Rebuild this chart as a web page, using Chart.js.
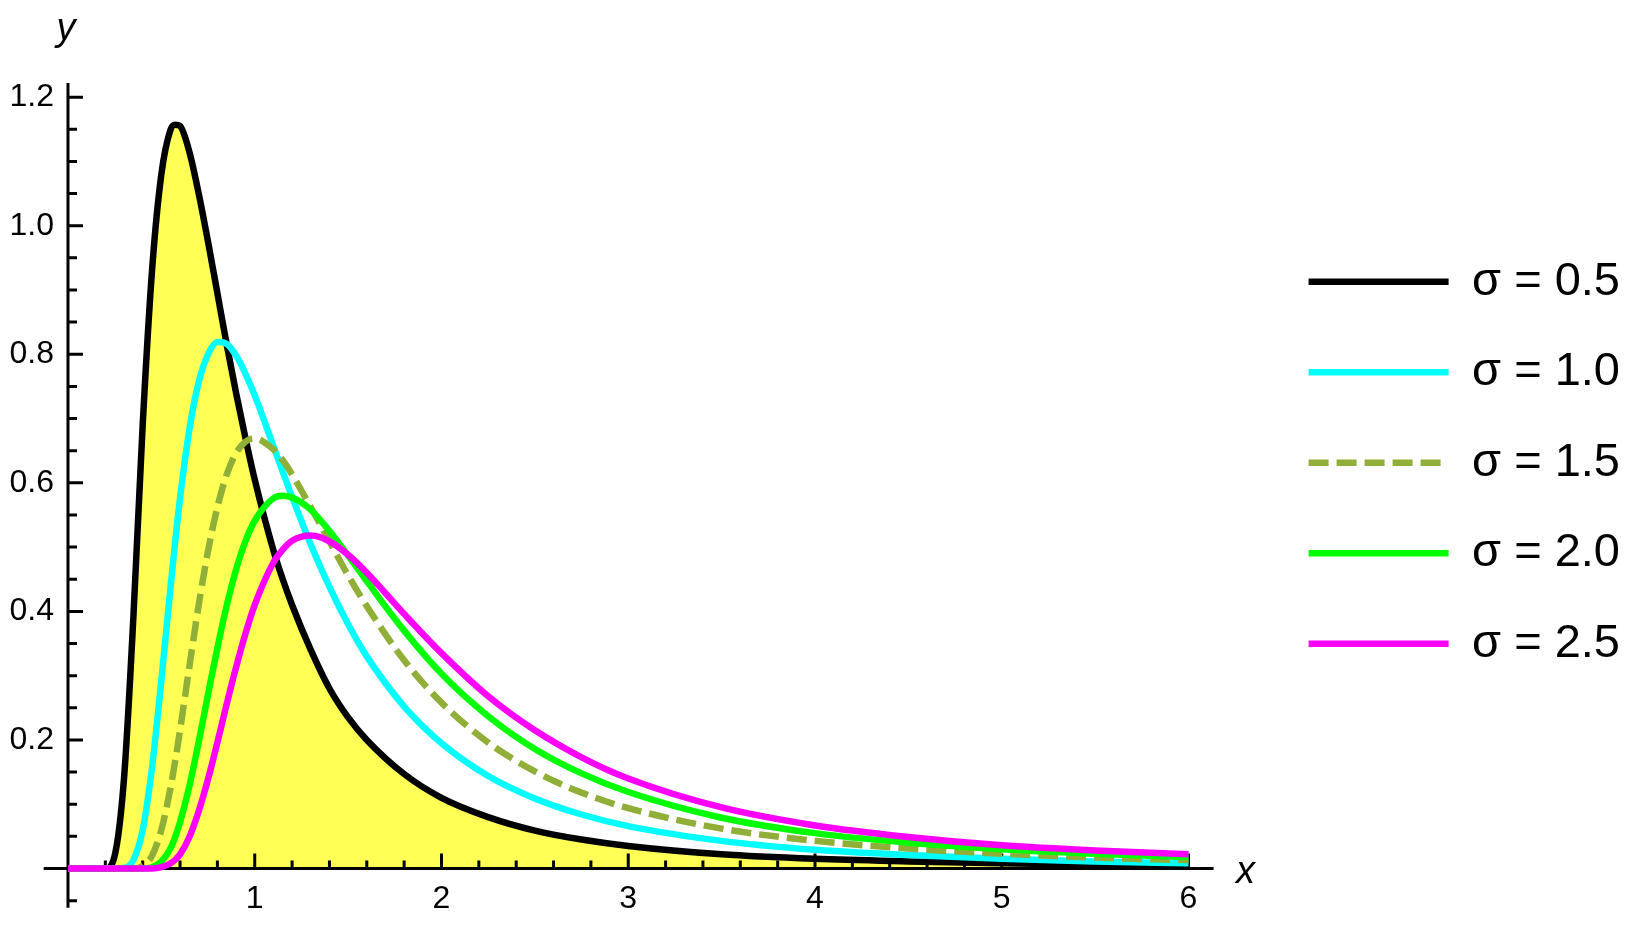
<!DOCTYPE html>
<html>
<head>
<meta charset="utf-8">
<title>Densities for several sigma</title>
<script src="https://cdn.jsdelivr.net/npm/chart.js@4.4.1/dist/chart.umd.min.js"></script>
<style>
    html, body { margin: 0; padding: 0; background: #fff; }
    #chart { display: block; }
</style>
</head>
<body>
<canvas id="chart" width="1630" height="931"></canvas>
<script>

// values
var xs = [0, 0.1, 0.2, 0.25, 0.3, 0.35, 0.4, 0.45, 0.5, 0.55, 0.575, 0.6, 0.65, 0.7, 0.75, 0.8, 0.85, 0.9, 0.95, 1.0,
    1.1, 1.15, 1.2, 1.3, 1.4, 1.5, 1.6, 1.8, 2.0, 2.25, 2.5, 2.75, 3.0, 3.5, 4.0, 4.5, 5.0, 5.5, 6.0];

var sigma05 = [0, 0, 0, 0.02, 0.14, 0.39, 0.69, 0.93, 1.08, 1.15, 1.157, 1.155, 1.115, 1.05, 0.975, 0.895, 0.815, 0.74, 0.67, 0.605,
    0.495, 0.45, 0.41, 0.34, 0.28, 0.235, 0.20, 0.147, 0.11, 0.08, 0.059, 0.045, 0.035, 0.022, 0.015, 0.011, 0.008, 0.006, 0.005];
var sigma10 = [0, 0, 0, 0, 0.001, 0.013, 0.06, 0.157, 0.293, 0.44, 0.511, 0.576, 0.683, 0.757, 0.80, 0.819, 0.816, 0.798, 0.77, 0.736,
    0.657, 0.617, 0.578, 0.504, 0.438, 0.38, 0.33, 0.252, 0.195, 0.144, 0.109, 0.084, 0.066, 0.043, 0.029, 0.021, 0.015, 0.011, 0.008];
var sigma15 = [0, 0, 0, 0, 0, 0, 0.004, 0.02, 0.06, 0.127, 0.169, 0.215, 0.314, 0.41, 0.494, 0.562, 0.613, 0.646, 0.664, 0.669,
    0.652, 0.635, 0.613, 0.562, 0.509, 0.456, 0.408, 0.324, 0.258, 0.196, 0.151, 0.118, 0.094, 0.062, 0.043, 0.031, 0.023, 0.017, 0.013];
var sigma20 = [0, 0, 0, 0, 0, 0, 0, 0.002, 0.011, 0.032, 0.05, 0.072, 0.128, 0.197, 0.271, 0.343, 0.409, 0.465, 0.509, 0.541,
    0.576, 0.58, 0.577, 0.558, 0.525, 0.487, 0.447, 0.37, 0.303, 0.237, 0.186, 0.148, 0.119, 0.079, 0.055, 0.04, 0.03, 0.023, 0.018];
var sigma25 = [0, 0, 0, 0, 0, 0, 0, 0, 0.002, 0.008, 0.014, 0.022, 0.049, 0.089, 0.139, 0.196, 0.256, 0.313, 0.365, 0.41,
    0.476, 0.496, 0.51, 0.518, 0.509, 0.488, 0.46, 0.396, 0.335, 0.268, 0.215, 0.173, 0.14, 0.095, 0.067, 0.049, 0.036, 0.028, 0.022];

var seriesLabels = ['σ = 0.5', 'σ = 1.0', 'σ = 1.5', 'σ = 2.0', 'σ = 2.5'];
var seriesValues = [sigma05, sigma10, sigma15, sigma20, sigma25];
var seriesColors = ['#000000', '#00ffff', '#90af38', '#00ff00', '#ff00ff'];

var xTicks = [1, 2, 3, 4, 5, 6];
var yTicks = [0.2, 0.4, 0.6, 0.8, 1.0, 1.2];

// axis extents (the axes cross at the origin, Mathematica style)
var xMax = 6.41, yMax = 1.222;
var xAxisFrom = -0.13, xAxisTo = 6.134;
var yAxisFrom = -0.061, yAxisTo = yMax;

Chart.defaults.font.family = '"Liberation Sans", Arial, sans-serif';
Chart.defaults.color = '#000';

// minor tick positions
var xMinor = [], yMinor = [];
for (var i = 1; i <= 30; i++) { if (i % 5) xMinor.push(i * 0.2); }
for (var j = -1; j <= 24; j++) { if (j !== 0 && j % 4) yMinor.push(j * 0.05); }

// axes lines + inward tick marks, drawn over the fill and under the curves
var axesPlugin = {
    id: 'mathAxes',
    beforeDatasetsDraw: function (chart) {
        var ctx = chart.ctx, x = chart.scales.x, y = chart.scales.y;
        var x0 = x.getPixelForValue(0), y0 = y.getPixelForValue(0);
        ctx.save();
        ctx.strokeStyle = '#000';
        ctx.lineWidth = 3;
        ctx.beginPath();
        ctx.moveTo(x.getPixelForValue(xAxisFrom), y0);
        ctx.lineTo(x.getPixelForValue(xAxisTo), y0);
        ctx.moveTo(x0, y.getPixelForValue(yAxisFrom));
        ctx.lineTo(x0, y.getPixelForValue(yAxisTo));
        xTicks.forEach(function (v) { var p = x.getPixelForValue(v); ctx.moveTo(p, y0); ctx.lineTo(p, y0 - 15); });
        xMinor.forEach(function (v) { var p = x.getPixelForValue(v); ctx.moveTo(p, y0); ctx.lineTo(p, y0 - 8); });
        yTicks.forEach(function (v) { var p = y.getPixelForValue(v); ctx.moveTo(x0, p); ctx.lineTo(x0 + 15, p); });
        yMinor.forEach(function (v) { var p = y.getPixelForValue(v); ctx.moveTo(x0, p); ctx.lineTo(x0 + 9, p); });
        ctx.stroke();
        ctx.restore();
    },
    afterDraw: function (chart) {
        var ctx = chart.ctx, x = chart.scales.x, y = chart.scales.y;
        ctx.save();
        ctx.fillStyle = '#000';
        ctx.font = 'italic 38px "Liberation Sans", Arial, sans-serif';
        ctx.textAlign = 'center';
        ctx.textBaseline = 'alphabetic';
        ctx.fillText('y', x.getPixelForValue(0) - 2, chart.chartArea.top - 43);
        ctx.fillText('x', x.getPixelForValue(xAxisTo) + 32, y.getPixelForValue(0) + 14);
        ctx.restore();
    }
};

// legend sits a little above the plot centre in the reference
var legendShift = {
    id: 'legendShift',
    afterLayout: function (chart) {
        chart.legend.top -= 13;
        chart.legend.bottom -= 13;
    }
};

var datasets = seriesValues.map(function (vals, k) {
    return {
        label: seriesLabels[k],
        data: xs.map(function (x, i) { return { x: x, y: vals[i] }; }),
        borderColor: seriesColors[k],
        backgroundColor: k === 0 ? '#ffff55' : seriesColors[k],
        borderWidth: 6.5,
        borderDash: k === 2 ? [20, 8] : [],
        fill: k === 0 ? 'origin' : false,
        pointRadius: 0,
        cubicInterpolationMode: 'monotone',
        clip: false,
        order: 5 - k
    };
});

new Chart(document.getElementById('chart'), {
    type: 'line',
    data: { datasets: datasets },
    plugins: [axesPlugin, legendShift],
    options: {
        responsive: false,
        animation: false,
        devicePixelRatio: 1,
        layout: { padding: { left: -4.5, top: 83, right: 0, bottom: 1.5 } },
        scales: {
            x: {
                type: 'linear',
                min: 0,
                max: xMax,
                grid: { display: false, drawTicks: false },
                border: { display: false },
                afterBuildTicks: function (axis) { axis.ticks = xTicks.map(function (v) { return { value: v }; }); },
                ticks: {
                    padding: 11.3,
                    maxRotation: 0,
                    autoSkip: false,
                    font: { size: 32 },
                    callback: function (v) { return String(v); }
                }
            },
            y: {
                type: 'linear',
                min: 0,
                max: yMax,
                grid: { display: false, drawTicks: false },
                border: { display: false },
                afterBuildTicks: function (axis) { axis.ticks = yTicks.map(function (v) { return { value: v }; }); },
                ticks: {
                    padding: 14,
                    autoSkip: false,
                    font: { size: 32 },
                    callback: function (v) { return v.toFixed(1); }
                }
            }
        },
        plugins: {
            filler: { drawTime: 'beforeDatasetsDraw' },
            tooltip: { enabled: false },
            legend: {
                position: 'right',
                align: 'center',
                fullSize: false,
                labels: {
                    usePointStyle: true,
                    pointStyle: 'line',
                    pointStyleWidth: 140,
                    padding: 43.5,
                    color: '#000',
                    font: { size: 47 },
                    sort: function (a, b) { return a.datasetIndex - b.datasetIndex; },
                    generateLabels: function (chart) {
                        var items = Chart.defaults.plugins.legend.labels.generateLabels(chart);
                        items.forEach(function (it) { it.lineDash = chart.data.datasets[it.datasetIndex].borderDash; });
                        return items;
                    }
                }
            }
        }
    }
});
</script>
</body>
</html>
